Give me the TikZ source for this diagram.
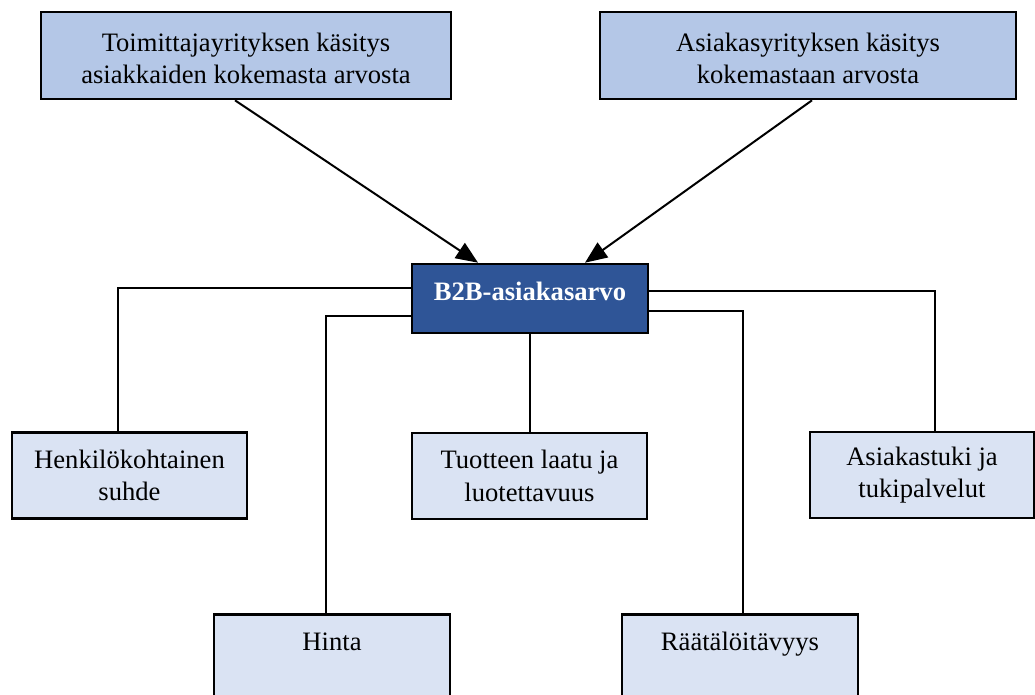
\documentclass[tikz,border=0pt]{standalone}
\usepackage{fontspec}
\setmainfont{Liberation Serif}
\usetikzlibrary{arrows.meta}
\definecolor{topfill}{HTML}{B4C7E7}
\definecolor{midfill}{HTML}{2F5597}
\definecolor{botfill}{HTML}{DAE3F3}
\tikzset{
  box/.style={draw=black, line width=2.6pt, align=center, inner sep=0pt,
    font=\fontsize{26.6pt}{32.5pt}\selectfont, text=black},
  topbox/.style={box, fill=topfill, minimum height=87pt, text height=57pt, text depth=0pt},
  midbox/.style={box, fill=midfill, minimum width=236pt, minimum height=69pt,
    text=white, text height=18pt, text depth=15pt,
    font=\fontsize{26.6pt}{32pt}\selectfont\bfseries},
  botbox/.style={box, fill=botfill, minimum height=86pt},
  openbox/.style={box, fill=botfill, minimum width=236pt, anchor=north,
    text height=18pt, text depth=70pt, inner ysep=18pt},
  conn/.style={draw=black, line width=2pt},
  arr/.style={draw=black, line width=2pt, -{Triangle[length=22pt,width=18pt]}}
}
\begin{document}
\begin{tikzpicture}[x=1pt,y=-1pt]
\clip (0,0) rectangle (1035,695);
\fill[white] (0,0) rectangle (1035,695);
\node[topbox, minimum width=410pt] (tl) at (246,55.5) {Toimittajayrityksen käsitys\\asiakkaiden kokemasta arvosta};
\node[topbox, minimum width=416pt] (tr) at (808,55.5) {Asiakasyrityksen käsitys\\kokemastaan arvosta};
\node[midbox] (c) at (530,298.5) {B2B-asiakasarvo};
\node[botbox, minimum width=235pt] (henk) at (129.5,475.5) {Henkilökohtainen\\suhde};
\node[botbox, minimum width=235pt] (tuot) at (529.5,476) {Tuotteen laatu ja\\luotettavuus};
\node[botbox, minimum width=224pt] (asia) at (922,475) {Asiakastuki ja\\tukipalvelut};
\node[openbox] (hinta) at (332,613) {Hinta};
\node[openbox] (raat) at (740,613) {Räätälöitävyys};
% arrows
\draw[arr] ([xshift=-11pt]tl.south) -- ([xshift=-52pt]c.north);
\draw[arr] ([xshift=4pt]tr.south) -- ([xshift=55pt]c.north);
% connectors
\draw[conn] ([yshift=10.5pt]c.west) -| ([xshift=-11.5pt]henk.north);
\draw[conn] ([yshift=-17.5pt]c.west) -| ([xshift=-6pt]hinta.north);
\draw[conn] (c.south) -- (c.south |- tuot.north);
\draw[conn] ([yshift=7.5pt]c.east) -| ([xshift=13pt]asia.north);
\draw[conn] ([yshift=-12.5pt]c.east) -| ([xshift=3pt]raat.north);
\end{tikzpicture}
\end{document}
